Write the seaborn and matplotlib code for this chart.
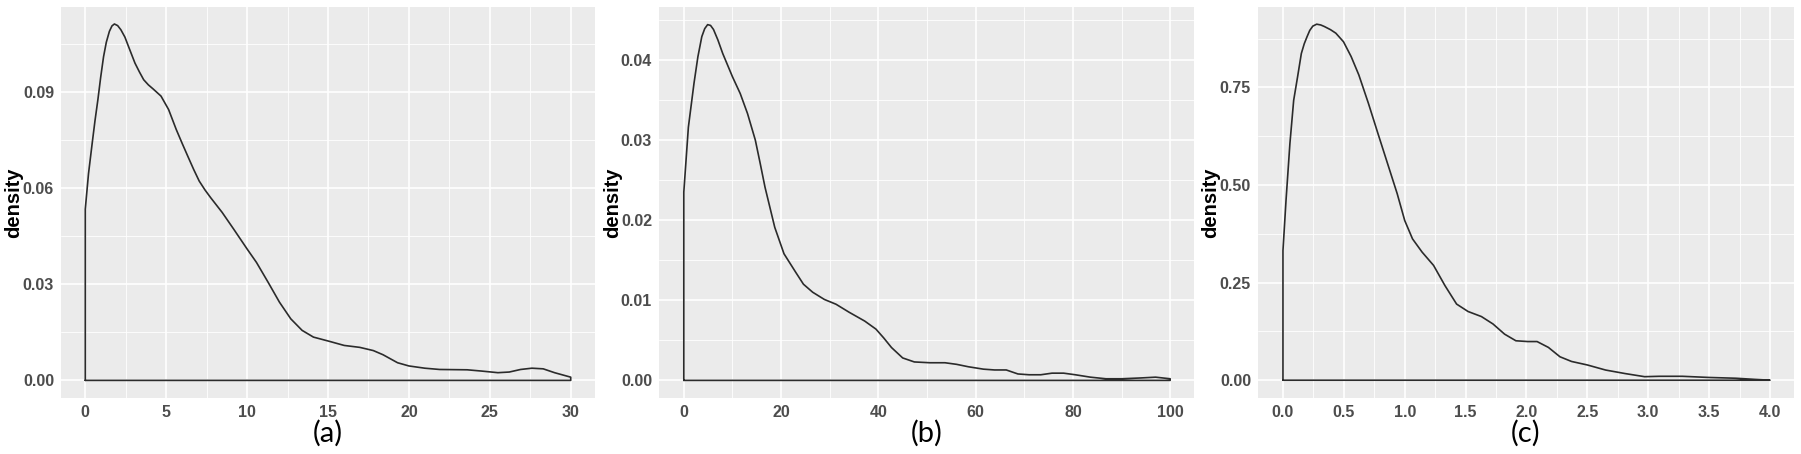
import numpy as np
import pandas as pd
import matplotlib
matplotlib.use("Agg")
import matplotlib.pyplot as plt
import seaborn as sns
from matplotlib.ticker import FixedLocator, FixedFormatter

# density curves
a_x = [0, 0.2, 0.43, 0.6, 0.78, 0.95, 1.13, 1.3, 1.49, 1.65, 1.8, 2.0, 2.2, 2.45, 2.67,
       3.07, 3.35, 3.61, 3.9, 4.2, 4.68, 5.15, 5.62, 6.0, 6.33, 6.7, 7.04, 7.4, 7.75,
       8.46, 9.17, 10.0, 10.58, 11.3, 12.0, 12.7, 13.4, 14.1, 15.07, 16.0, 16.96, 17.8,
       18.4, 19.3, 20.0, 20.98, 21.9, 23.6, 24.5, 25.5, 26.2, 26.9, 27.6, 28.3, 29.0,
       30.0]
a_y = [0.0534, 0.0645, 0.0741, 0.081, 0.0876, 0.0945, 0.101, 0.1055, 0.1089, 0.1106,
       0.1112, 0.1107, 0.1094, 0.1071, 0.1042, 0.099, 0.0962, 0.0938, 0.0922, 0.0909,
       0.0887, 0.0845, 0.0783, 0.0738, 0.070, 0.0658, 0.0622, 0.0594, 0.057, 0.0524,
       0.0472, 0.041, 0.0368, 0.0306, 0.0244, 0.0192, 0.0156, 0.0135, 0.0122, 0.0109,
       0.0103, 0.0093, 0.008, 0.0055, 0.0045, 0.0038, 0.0034, 0.0033, 0.0029, 0.0024,
       0.0026, 0.0034, 0.0038, 0.0036, 0.0024, 0.001]

b_x = [0, 0.94, 2.1, 2.9, 3.7, 4.3, 4.9, 5.5, 6.1, 7.0, 8.0, 10.0, 11.6, 13.1, 14.7,
       15.7, 16.7, 18.7, 20.6, 23.0, 24.6, 26.5, 28.9, 31.3, 34.0, 37.2, 39.5, 41.1,
       42.7, 45.0, 47.4, 50.6, 53.7, 56.1, 58.5, 61.6, 63.9, 66.3, 68.7, 71.0, 73.4,
       75.7, 78.1, 80.5, 83.6, 86.8, 90.0, 93.9, 97.0, 100.0]
b_y = [0.0235, 0.0316, 0.0371, 0.0404, 0.0429, 0.0439, 0.0444, 0.0443, 0.0438, 0.0425,
       0.0408, 0.0379, 0.0358, 0.0333, 0.030, 0.0271, 0.0241, 0.0191, 0.0158, 0.0135,
       0.012, 0.011, 0.0101, 0.0095, 0.0085, 0.0074, 0.0064, 0.0053, 0.0041, 0.0028,
       0.0023, 0.0022, 0.0022, 0.002, 0.0017, 0.0014, 0.0013, 0.0013, 0.0008, 0.0007,
       0.0007, 0.0009, 0.0009, 0.0007, 0.0004, 0.0002, 0.0002, 0.0003, 0.0004, 0.0002]

c_x = [0, 0.025, 0.057, 0.088, 0.12, 0.151, 0.175, 0.198, 0.22, 0.245, 0.277, 0.31,
       0.34, 0.39, 0.434, 0.497, 0.56, 0.623, 0.702, 0.78, 0.859, 0.938, 1.0, 1.064,
       1.143, 1.237, 1.331, 1.426, 1.52, 1.63, 1.725, 1.82, 1.913, 2.01, 2.087, 2.18,
       2.275, 2.37, 2.5, 2.65, 2.81, 2.97, 3.09, 3.28, 3.5, 3.72, 3.88, 4.0]
c_y = [0.332, 0.46, 0.606, 0.717, 0.777, 0.837, 0.862, 0.88, 0.896, 0.907, 0.912, 0.91,
       0.906, 0.898, 0.889, 0.867, 0.829, 0.782, 0.709, 0.632, 0.555, 0.478, 0.409,
       0.362, 0.328, 0.294, 0.242, 0.195, 0.176, 0.163, 0.144, 0.118, 0.101, 0.099,
       0.099, 0.084, 0.06, 0.048, 0.039, 0.026, 0.017, 0.009, 0.010, 0.010, 0.007,
       0.005, 0.002, 0.0]

panel_names = ["(a)", "(b)", "(c)"]

a_xticks = [0, 5, 10, 15, 20, 25, 30]
a_xlabels = ["0", "5", "10", "15", "20", "25", "30"]
a_yticks = [0, 0.03, 0.06, 0.09]
a_ylabels = ["0.00", "0.03", "0.06", "0.09"]

b_xticks = [0, 20, 40, 60, 80, 100]
b_xlabels = ["0", "20", "40", "60", "80", "100"]
b_yticks = [0, 0.01, 0.02, 0.03, 0.04]
b_ylabels = ["0.00", "0.01", "0.02", "0.03", "0.04"]

c_xticks = [0, 0.5, 1.0, 1.5, 2.0, 2.5, 3.0, 3.5, 4.0]
c_xlabels = ["0.0", "0.5", "1.0", "1.5", "2.0", "2.5", "3.0", "3.5", "4.0"]
c_yticks = [0, 0.25, 0.5, 0.75]
c_ylabels = ["0.00", "0.25", "0.50", "0.75"]

sns.set_theme(style="darkgrid", rc={
    "axes.facecolor": "#EBEBEB",
    "grid.color": "white",
    "axes.edgecolor": "#EBEBEB",
})

fig = plt.figure(figsize=(18.01, 4.54), dpi=100)

panels = [
    (a_x, a_y, a_xticks, a_xlabels, a_yticks, a_ylabels, (-1.5, 31.5), (-0.0055, 0.1165), [61, 534]),
    (b_x, b_y, b_xticks, b_xlabels, b_yticks, b_ylabels, (-5.1, 104.9), (-0.0022, 0.0466), [659, 535]),
    (c_x, c_y, c_xticks, c_xlabels, c_yticks, c_ylabels, (-0.205, 4.197), (-0.0456, 0.956), [1258, 536]),
]
# right edge of the rotated "density" label, in figure pixels
label_x = [23, 622, 1220]

W, H = 1801, 454
tick_font = ["Liberation Sans Narrow", "Liberation Sans", "DejaVu Sans"]

for i, (xs, ys, xt, xl, yt, yl, xlim, ylim, pos) in enumerate(panels):
    ax = fig.add_axes([pos[0] / W, (H - 398) / H, pos[1] / W, 391 / H])
    # close the outline like geom_density does
    df = pd.DataFrame({
        "x": [xs[0]] + xs + [xs[-1], xs[0]],
        "y": [0] + ys + [0, 0],
    })
    sns.lineplot(data=df, x="x", y="y", sort=False, estimator=None,
                 color="#2b2b2b", linewidth=1.2, ax=ax)
    ax.set_xlim(*xlim)
    ax.set_ylim(*ylim)

    ax.xaxis.set_major_locator(FixedLocator(xt))
    ax.xaxis.set_major_formatter(FixedFormatter(xl))
    ax.yaxis.set_major_locator(FixedLocator(yt))
    ax.yaxis.set_major_formatter(FixedFormatter(yl))
    xm = [(xt[j] + xt[j + 1]) / 2 for j in range(len(xt) - 1)]
    ym = [(yt[j] + yt[j + 1]) / 2 for j in range(len(yt) - 1)]
    ym.append(yt[-1] + (yt[1] - yt[0]) / 2)
    ax.xaxis.set_minor_locator(FixedLocator(xm))
    ax.yaxis.set_minor_locator(FixedLocator(ym))
    ax.grid(which="major", color="white", linewidth=1.2)
    ax.grid(which="minor", color="white", linewidth=0.6)
    ax.set_axisbelow(True)

    ax.tick_params(axis="both", which="major", length=3, width=0.8, color="#333333",
                   pad=2, labelsize=11.5, labelcolor="#4D4D4D")
    ax.tick_params(axis="both", which="minor", length=0)
    for lab in ax.get_xticklabels() + ax.get_yticklabels():
        lab.set_family(tick_font)
        lab.set_fontweight("bold")

    for s in ax.spines.values():
        s.set_visible(False)

    ax.set_xlabel("")
    ax.set_ylabel("density", fontsize=14.5, fontweight="bold", color="black",
                  family=["Liberation Sans", "DejaVu Sans"])
    ax.yaxis.set_label_coords((label_x[i] - pos[0]) / pos[1], 0.5)

    fig.text((pos[0] + pos[1] / 2) / W, 1 - 433 / H, panel_names[i],
             ha="center", va="center", fontsize=21, color="black",
             family=["Lato", "DejaVu Sans"])

fig.savefig("out.png", dpi=100)
